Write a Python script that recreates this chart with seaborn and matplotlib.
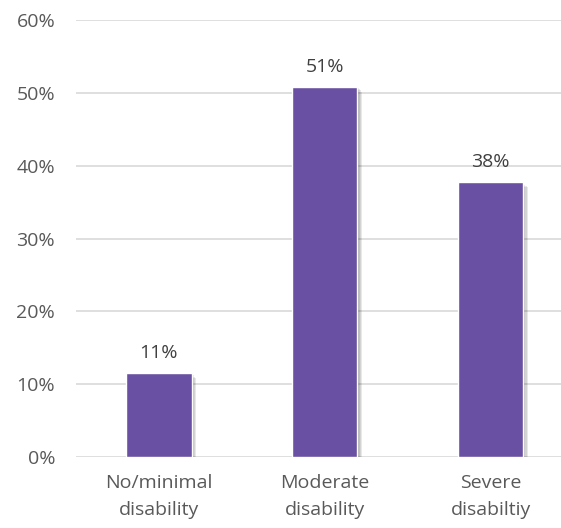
import matplotlib
matplotlib.use("Agg")
import matplotlib.pyplot as plt
import matplotlib.patheffects as pe
import seaborn as sns
import pandas as pd

# values
categories = ["No/minimal\ndisability", "Moderate\ndisability", "Severe\ndisabiltiy"]
shares = [0.115, 0.508, 0.377]
labels = ["11%", "51%", "38%"]
yticks = [0, 0.1, 0.2, 0.3, 0.4, 0.5, 0.6]

df = pd.DataFrame({"category": categories, "share": shares})

sns.set_style("white")
plt.rcParams["font.family"] = ["Open Sans", "DejaVu Sans"]

fig = plt.figure(figsize=(5.61, 5.28), dpi=100)
ax = fig.add_axes([0.1355, 0.1345, 0.872, 0.8275])

sns.barplot(data=df, x="category", y="share", color="#6A50A2",
            saturation=1, width=0.394, ax=ax, zorder=3)

# soft drop shadow, a few faint layers to fake a blur
shadow = [pe.SimplePatchShadow(offset=(d, -d), shadow_rgbFace="#000000", alpha=0.09)
          for d in (0.8, 1.6, 2.4, 3.2)]
for bar in ax.patches:
    bar.set_path_effects(shadow + [pe.Normal()])

for bar, lab in zip(ax.patches, labels):
    ax.annotate(lab, (bar.get_x() + bar.get_width() / 2, bar.get_height()),
                xytext=(0, 8), textcoords="offset points",
                ha="center", va="bottom", fontsize=14, color="#404040")

ax.set_ylim(0, 0.6)
ax.set_xlim(-0.5, 2.45)
ax.set_yticks(yticks)
ax.set_yticklabels([f"{int(round(t * 100))}%" for t in yticks])
ax.yaxis.grid(True, color="#D9D9D9", linewidth=1.2, zorder=0)
ax.set_axisbelow(True)
for s in ax.spines.values():
    s.set_visible(False)
ax.tick_params(axis="y", length=0, pad=15, labelsize=14, labelcolor="#595959")
ax.tick_params(axis="x", length=0, pad=12, labelsize=14, labelcolor="#595959")
for t in ax.get_xticklabels():
    t.set_linespacing(1.65)
ax.set_xlabel("")
ax.set_ylabel("")

fig.savefig("out.png", dpi=100)
